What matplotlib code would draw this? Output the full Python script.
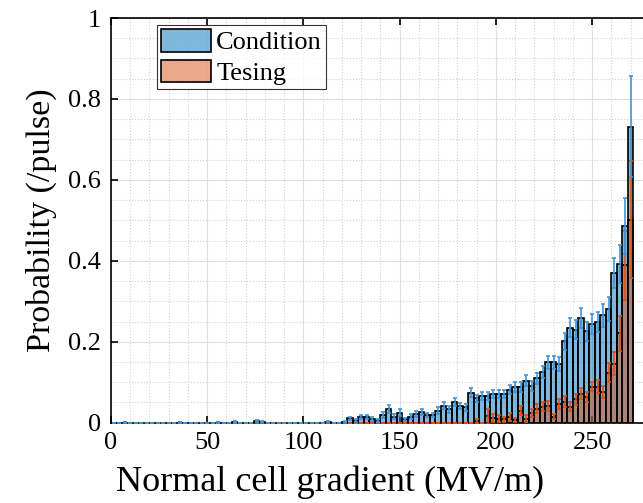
import numpy as np
import matplotlib
matplotlib.use('Agg')
import matplotlib.pyplot as plt
from matplotlib.ticker import MultipleLocator, FormatStrFormatter

# histogram data, 95 bins of equal width starting at 0
bin_width = 2.857

condition = [0]*22 + [0.002, 0, 0, 0, 0.004, 0.003] + [0]*11 + [0.003, 0, 0, 0.002] + [
    0.011, 0.005, 0.015, 0.013, 0.009, 0.005, 0.019, 0.033, 0.015, 0.025,
    0.008, 0.015, 0.021, 0.026, 0.019, 0.019, 0.030, 0.042, 0.033, 0.052,
    0.041, 0.038, 0.074, 0.060, 0.067, 0.066, 0.071, 0.072, 0.071, 0.082,
    0.089, 0.089, 0.104, 0.091, 0.110, 0.126, 0.149, 0.149, 0.146, 0.201,
    0.235, 0.230, 0.258, 0.226, 0.243, 0.248, 0.265, 0.281, 0.370, 0.393,
    0.487, 0.731]
condition_err = [0]*22 + [0.002, 0, 0, 0, 0.002, 0.002] + [0]*11 + [0.002, 0, 0, 0.002] + [
    0.004, 0.003, 0.005, 0.005, 0.004, 0.003, 0.008, 0.010, 0.006, 0.008,
    0.004, 0.006, 0.007, 0.007, 0.006, 0.006, 0.008, 0.009, 0.008, 0.010,
    0.008, 0.008, 0.011, 0.009, 0.010, 0.010, 0.010, 0.010, 0.010, 0.011,
    0.012, 0.012, 0.013, 0.012, 0.014, 0.015, 0.017, 0.017, 0.017, 0.021,
    0.023, 0.023, 0.025, 0.023, 0.025, 0.025, 0.028, 0.030, 0.038, 0.047,
    0.069, 0.125]

testing = [0, 0, 0.001] + [0]*9 + [0.001] + [0]*6 + [0.001] + [0]*22 + [0.001] + [0]*23 + [
    0.004, 0.0, 0.016, 0.012, 0.010, 0.008, 0.014, 0.006, 0.030, 0.010,
    0.025, 0.035, 0.040, 0.042, 0.015, 0.046, 0.052, 0.040, 0.058, 0.072,
    0.064, 0.089, 0.089, 0.075, 0.124, 0.146, 0.221, 0.389, 0.502]
testing_err = [0]*66 + [
    0.004, 0.0, 0.018, 0.010, 0.008, 0.006, 0.009, 0.005, 0.012, 0.008,
    0.010, 0.012, 0.012, 0.012, 0.007, 0.012, 0.013, 0.011, 0.013, 0.014,
    0.013, 0.011, 0.016, 0.015, 0.023, 0.028, 0.043, 0.085, 0.145]

plt.rcParams['font.family'] = ['Liberation Serif', 'DejaVu Serif']

blue = (0/255, 114/255, 189/255)
orange = (217/255, 83/255, 25/255)

fig = plt.figure(figsize=(6.43, 5.03), dpi=100)
ax_w = 280*1.925/643
ax = fig.add_axes([0.1726, 0.1596, ax_w, 0.8046])

edges = np.arange(len(condition)) * bin_width
centers = edges + bin_width/2
c = np.array(condition)
t = np.array(testing)

mc = c > 0
ax.bar(edges[mc], c[mc], width=bin_width, align='edge',
       facecolor=blue + (0.5,), edgecolor='black', linewidth=1.2,
       label='Condition', zorder=2)
mt = t > 0.0015
ax.bar(edges[mt], t[mt], width=bin_width, align='edge',
       facecolor=orange + (0.5,), edgecolor='black', linewidth=1.2,
       label='Tesing', zorder=3)
ax.errorbar(centers, t, yerr=testing_err, fmt='none', ecolor=orange,
            elinewidth=1.2, capsize=1.6, capthick=1.2, zorder=4)
ax.errorbar(centers, c, yerr=condition_err, fmt='none',
            ecolor=(0.25, 0.58, 0.85), elinewidth=1.2, capsize=1.6,
            capthick=1.2, zorder=5)

ax.set_xlim(0, 280)
ax.set_ylim(0, 1)
ax.xaxis.set_major_locator(MultipleLocator(50))
ax.xaxis.set_minor_locator(MultipleLocator(10))
ax.yaxis.set_major_locator(MultipleLocator(0.2))
ax.yaxis.set_minor_locator(MultipleLocator(0.05))
ax.yaxis.set_major_formatter(FormatStrFormatter('%g'))
ax.grid(which='major', color=(0.87, 0.87, 0.87), linewidth=0.8, zorder=0)
ax.grid(which='minor', color=(0.82, 0.82, 0.82), linestyle=':', linewidth=0.8, zorder=0)
ax.set_axisbelow(True)
ax.tick_params(which='major', direction='in', length=5, width=1.2,
               labelsize=19, top=True, right=True, pad=7)
ax.tick_params(which='minor', length=0)
for s in ax.spines.values():
    s.set_linewidth(1.2)

ax.set_xlabel('Normal cell gradient (MV/m)', fontsize=26)
ax.xaxis.set_label_coords((330 - 111) / (ax_w * 643), -0.106)
ax.set_ylabel('Probability (/pulse)', fontsize=24.5, labelpad=8)

leg = ax.legend(loc='upper left', bbox_to_anchor=(0.085, 0.983), fontsize=19,
                frameon=True, fancybox=False, edgecolor='black',
                handlelength=1.9, handleheight=0.95, borderpad=0.15,
                labelspacing=0.2, handletextpad=0.2, borderaxespad=0)
leg.get_frame().set_linewidth(0.8)

fig.savefig('out.png', dpi=100)
